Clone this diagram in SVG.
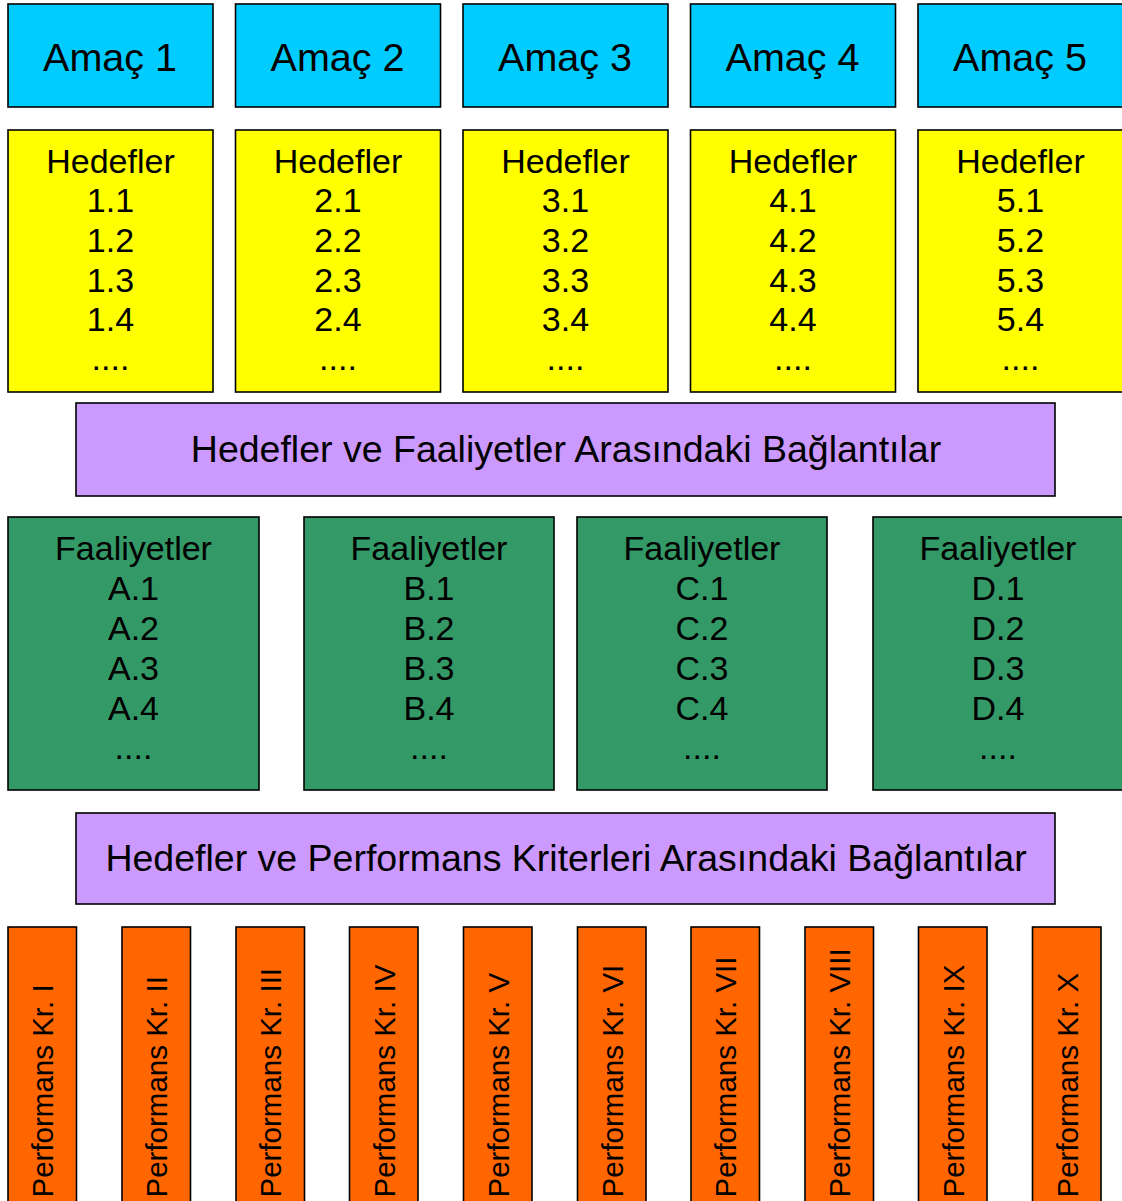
<svg xmlns="http://www.w3.org/2000/svg" width="1122" height="1201" viewBox="0 0 1122 1201">
<style>
.box{stroke:#000;stroke-width:1.6}
.amac{fill:#00CCFF}
.hed{fill:#FFFF00}
.bag{fill:#CC99FF}
.faa{fill:#339966}
.per{fill:#FF6600}
text{font-family:"Liberation Sans",Arial,Helvetica,sans-serif;fill:#000;text-anchor:middle}
.t39{font-size:39.5px}
.t34{font-size:34px}
.t37{font-size:37.5px}
.t30{font-size:29.5px;text-anchor:start}
</style>
<rect width="1122" height="1201" fill="#fff"/>
<g id="amac1"><rect class="box amac" x="8" y="4" width="205" height="103"/><text class="t39" x="110" y="71">Amaç 1</text></g>
<g id="amac2"><rect class="box amac" x="235.5" y="4" width="205" height="103"/><text class="t39" x="337.5" y="71">Amaç 2</text></g>
<g id="amac3"><rect class="box amac" x="463" y="4" width="205" height="103"/><text class="t39" x="565" y="71">Amaç 3</text></g>
<g id="amac4"><rect class="box amac" x="690.5" y="4" width="205" height="103"/><text class="t39" x="792.5" y="71">Amaç 4</text></g>
<g id="amac5"><rect class="box amac" x="918" y="4" width="205" height="103"/><text class="t39" x="1020" y="71">Amaç 5</text></g>

<g id="hedef1"><rect class="box hed" x="8" y="130" width="205" height="262"/><text class="t34"><tspan x="110.5" y="173">Hedefler</tspan><tspan x="110.5" y="212">1.1</tspan><tspan x="110.5" y="252">1.2</tspan><tspan x="110.5" y="292">1.3</tspan><tspan x="110.5" y="331">1.4</tspan><tspan x="110.5" y="370">....</tspan></text></g>
<g id="hedef2"><rect class="box hed" x="235.5" y="130" width="205" height="262"/><text class="t34"><tspan x="338" y="173">Hedefler</tspan><tspan x="338" y="212">2.1</tspan><tspan x="338" y="252">2.2</tspan><tspan x="338" y="292">2.3</tspan><tspan x="338" y="331">2.4</tspan><tspan x="338" y="370">....</tspan></text></g>
<g id="hedef3"><rect class="box hed" x="463" y="130" width="205" height="262"/><text class="t34"><tspan x="565.5" y="173">Hedefler</tspan><tspan x="565.5" y="212">3.1</tspan><tspan x="565.5" y="252">3.2</tspan><tspan x="565.5" y="292">3.3</tspan><tspan x="565.5" y="331">3.4</tspan><tspan x="565.5" y="370">....</tspan></text></g>
<g id="hedef4"><rect class="box hed" x="690.5" y="130" width="205" height="262"/><text class="t34"><tspan x="793" y="173">Hedefler</tspan><tspan x="793" y="212">4.1</tspan><tspan x="793" y="252">4.2</tspan><tspan x="793" y="292">4.3</tspan><tspan x="793" y="331">4.4</tspan><tspan x="793" y="370">....</tspan></text></g>
<g id="hedef5"><rect class="box hed" x="918" y="130" width="205" height="262"/><text class="t34"><tspan x="1020.5" y="173">Hedefler</tspan><tspan x="1020.5" y="212">5.1</tspan><tspan x="1020.5" y="252">5.2</tspan><tspan x="1020.5" y="292">5.3</tspan><tspan x="1020.5" y="331">5.4</tspan><tspan x="1020.5" y="370">....</tspan></text></g>

<g id="baglanti1"><rect class="box bag" x="76" y="403" width="979" height="93"/><text class="t37" x="566" y="462">Hedefler ve Faaliyetler Arasındaki Bağlantılar</text></g>

<g id="faaliyetA"><rect class="box faa" x="8" y="517" width="251" height="273"/><text class="t34"><tspan x="133.5" y="560">Faaliyetler</tspan><tspan x="133.5" y="600">A.1</tspan><tspan x="133.5" y="640">A.2</tspan><tspan x="133.5" y="680">A.3</tspan><tspan x="133.5" y="720">A.4</tspan><tspan x="133.5" y="759">....</tspan></text></g>
<g id="faaliyetB"><rect class="box faa" x="304" y="517" width="250" height="273"/><text class="t34"><tspan x="429" y="560">Faaliyetler</tspan><tspan x="429" y="600">B.1</tspan><tspan x="429" y="640">B.2</tspan><tspan x="429" y="680">B.3</tspan><tspan x="429" y="720">B.4</tspan><tspan x="429" y="759">....</tspan></text></g>
<g id="faaliyetC"><rect class="box faa" x="577" y="517" width="250" height="273"/><text class="t34"><tspan x="702" y="560">Faaliyetler</tspan><tspan x="702" y="600">C.1</tspan><tspan x="702" y="640">C.2</tspan><tspan x="702" y="680">C.3</tspan><tspan x="702" y="720">C.4</tspan><tspan x="702" y="759">....</tspan></text></g>
<g id="faaliyetD"><rect class="box faa" x="873" y="517" width="250" height="273"/><text class="t34"><tspan x="998" y="560">Faaliyetler</tspan><tspan x="998" y="600">D.1</tspan><tspan x="998" y="640">D.2</tspan><tspan x="998" y="680">D.3</tspan><tspan x="998" y="720">D.4</tspan><tspan x="998" y="759">....</tspan></text></g>

<g id="baglanti2"><rect class="box bag" x="76" y="813" width="979" height="91"/><text class="t37" x="566" y="871">Hedefler ve Performans Kriterleri Arasındaki Bağlantılar</text></g>

<g id="perf1"><rect class="box per" x="8" y="927" width="68.5" height="280"/><text class="t30" transform="translate(53,1197.5) rotate(-90)">Performans Kr. I</text></g>
<g id="perf2"><rect class="box per" x="122" y="927" width="68.5" height="280"/><text class="t30" transform="translate(167,1197.5) rotate(-90)">Performans Kr. II</text></g>
<g id="perf3"><rect class="box per" x="236" y="927" width="68.5" height="280"/><text class="t30" transform="translate(281,1197.5) rotate(-90)">Performans Kr. III</text></g>
<g id="perf4"><rect class="box per" x="349.5" y="927" width="68.5" height="280"/><text class="t30" transform="translate(394.5,1197.5) rotate(-90)">Performans Kr. IV</text></g>
<g id="perf5"><rect class="box per" x="463.5" y="927" width="68.5" height="280"/><text class="t30" transform="translate(508.5,1197.5) rotate(-90)">Performans Kr. V</text></g>
<g id="perf6"><rect class="box per" x="577.5" y="927" width="68.5" height="280"/><text class="t30" transform="translate(622.5,1197.5) rotate(-90)">Performans Kr. VI</text></g>
<g id="perf7"><rect class="box per" x="691" y="927" width="68.5" height="280"/><text class="t30" transform="translate(736,1197.5) rotate(-90)">Performans Kr. VII</text></g>
<g id="perf8"><rect class="box per" x="805" y="927" width="68.5" height="280"/><text class="t30" transform="translate(850,1197.5) rotate(-90)">Performans Kr. VIII</text></g>
<g id="perf9"><rect class="box per" x="918.5" y="927" width="68.5" height="280"/><text class="t30" transform="translate(963.5,1197.5) rotate(-90)">Performans Kr. IX</text></g>
<g id="perf10"><rect class="box per" x="1032.5" y="927" width="68.5" height="280"/><text class="t30" transform="translate(1077.5,1197.5) rotate(-90)">Performans Kr. X</text></g>
<g id="connectors"></g>
</svg>
